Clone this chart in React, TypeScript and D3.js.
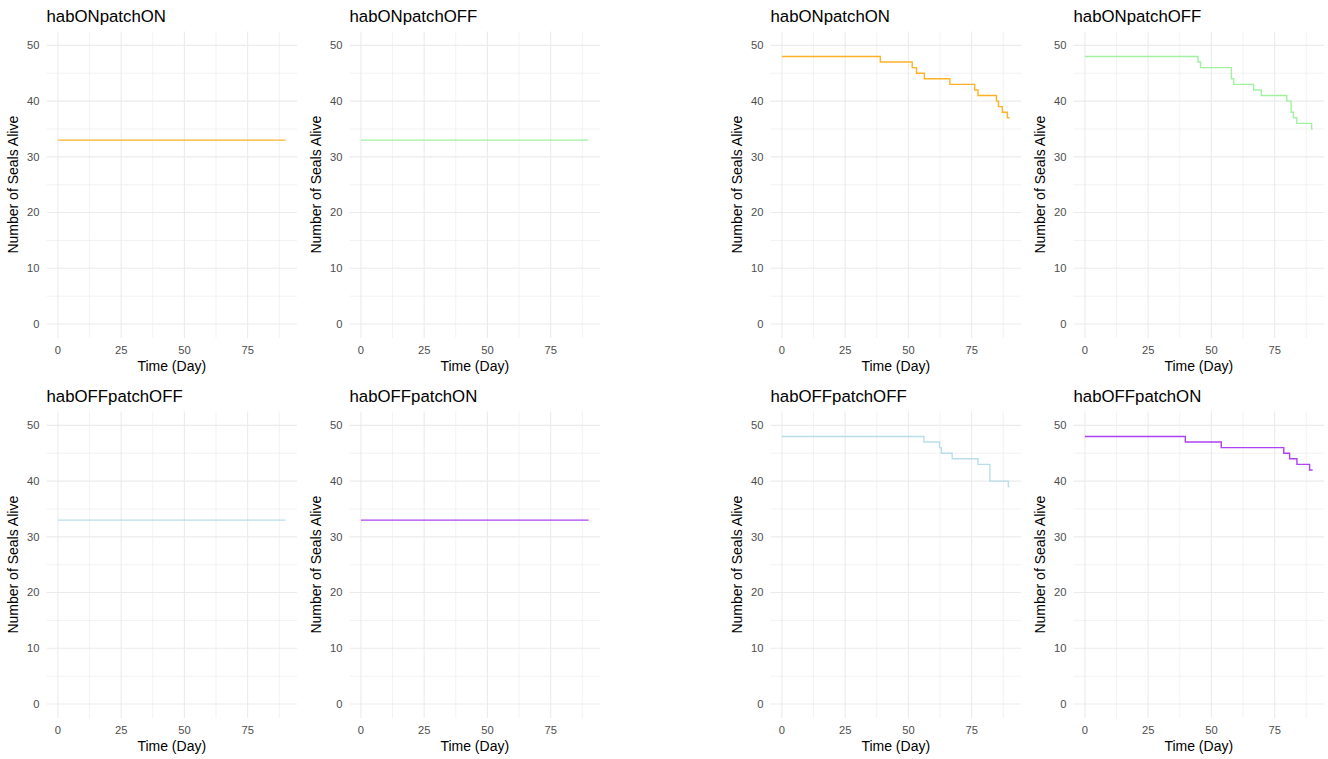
import React from "react";
import * as d3 from "d3";

// ---- Data ----
const xTicks = [0, 25, 50, 75];
const xMinor = [12.5, 37.5, 62.5, 87.5];
const yTicks = [0, 10, 20, 30, 40, 50];
const yMinor = [5, 15, 25, 35, 45];

const titles = ["habONpatchON", "habONpatchOFF", "habOFFpatchOFF", "habOFFpatchON"];
const colors = ["#FFA500", "#90EE90", "#ADD8E6", "#A020F0"];

// left group: constant population
const constTimes = [0, 90];
const constValues = [33, 33];

// right group: step survival curves
const onOnTimes = [0, 38.9, 51.5, 53.2, 56.3, 66.4, 76.2, 77.5, 84.8, 85.6, 87.1, 89.1, 90];
const onOnValues = [48, 47, 46, 45, 44, 43, 42, 41, 40, 39, 38, 37, 37];
const onOffTimes = [0, 44.7, 45.7, 57.9, 58.8, 66.7, 69.7, 79.8, 81.5, 82.4, 83.7, 89.6, 90];
const onOffValues = [48, 47, 46, 44, 43, 42, 41, 40, 38, 37, 36, 35, 35];
const offOffTimes = [0, 56.1, 62.3, 63, 67.3, 77.5, 82.2, 89.5, 90];
const offOffValues = [48, 47, 46, 45, 44, 43, 40, 39, 39];
const offOnTimes = [0, 39.7, 53.9, 78.6, 80.9, 83.8, 88.8, 90];
const offOnValues = [48, 47, 46, 45, 44, 43, 42, 42];

const stepSeries = [
  [onOnTimes, onOnValues],
  [onOffTimes, onOffValues],
  [offOffTimes, offOffValues],
  [offOnTimes, offOnValues],
];

const FONT = "'Liberation Sans', Arial, Helvetica, sans-serif";

type PanelProps = {
  left: number;
  top: number;
  title: string;
  color: string;
  times: number[];
  values: number[];
};

const W = 250.5;
const H = 306.6;

function Panel({ left, top, title, color, times, values }: PanelProps) {
  const x = d3.scaleLinear().domain([-4.5, 94.5]).range([left, left + W]);
  const y = d3.scaleLinear().domain([-2.5, 52.5]).range([top + H, top]);
  const pts: [number, number][] = times.map((t, i) => [t, values[i]]);
  const line = d3
    .line<[number, number]>()
    .x((d) => x(d[0]))
    .y((d) => y(d[1]))
    .curve(d3.curveStepAfter);
  const bottom = top + H;
  return (
    <g>
      {yMinor.map((v) => (
        <line key={"ym" + v} x1={left} x2={left + W} y1={y(v)} y2={y(v)} stroke="#EBEBEB" strokeWidth={0.6} />
      ))}
      {xMinor.map((v) => (
        <line key={"xm" + v} x1={x(v)} x2={x(v)} y1={top} y2={bottom} stroke="#EBEBEB" strokeWidth={0.6} />
      ))}
      {yTicks.map((v) => (
        <line key={"yM" + v} x1={left} x2={left + W} y1={y(v)} y2={y(v)} stroke="#EBEBEB" strokeWidth={1.1} />
      ))}
      {xTicks.map((v) => (
        <line key={"xM" + v} x1={x(v)} x2={x(v)} y1={top} y2={bottom} stroke="#EBEBEB" strokeWidth={1.1} />
      ))}
      <path d={line(pts) || ""} fill="none" stroke={color} strokeOpacity={0.85} strokeWidth={1.4} />
      {yTicks.map((v) => (
        <text key={"yl" + v} x={left - 7} y={y(v)} dy="0.35em" textAnchor="end" fontSize={11.2} fill="#4D4D4D" fontFamily={FONT}>
          {v}
        </text>
      ))}
      {xTicks.map((v) => (
        <text key={"xl" + v} x={x(v)} y={bottom + 15.5} textAnchor="middle" fontSize={11.2} fill="#4D4D4D" fontFamily={FONT}>
          {v}
        </text>
      ))}
      <text x={left + W / 2} y={bottom + 33} textAnchor="middle" fontSize={14} fill="#000" fontFamily={FONT}>
        Time (Day)
      </text>
      <text
        transform={`translate(${left - 29},${top + H / 2}) rotate(-90)`}
        textAnchor="middle"
        fontSize={14}
        fill="#000"
        fontFamily={FONT}
      >
        Number of Seals Alive
      </text>
      <text x={left} y={top - 9.5} fontSize={16.8} fill="#000" fontFamily={FONT}>
        {title}
      </text>
    </g>
  );
}

const lefts = [46.5, 349.5, 770.5, 1073.5];
const tops = [31.4, 411.4];

export default function App() {
  const panels: PanelProps[] = [];
  // grid order: row 0 -> titles 0,1 ; row 1 -> titles 2,3
  for (let group = 0; group < 2; group++) {
    for (let row = 0; row < 2; row++) {
      for (let col = 0; col < 2; col++) {
        const idx = row * 2 + col;
        const times = group === 0 ? constTimes : stepSeries[idx][0];
        const values = group === 0 ? constValues : stepSeries[idx][1];
        panels.push({
          left: lefts[group * 2 + col],
          top: tops[row],
          title: titles[idx],
          color: colors[idx],
          times,
          values,
        });
      }
    }
  }
  return (
    <svg
      width={1328}
      height={759}
      style={{ position: "absolute", left: 0, top: 0, background: "#fff" }}
    >
      <rect x={0} y={0} width={1328} height={759} fill="#fff" />
      {panels.map((p, i) => (
        <Panel key={i} {...p} />
      ))}
    </svg>
  );
}
